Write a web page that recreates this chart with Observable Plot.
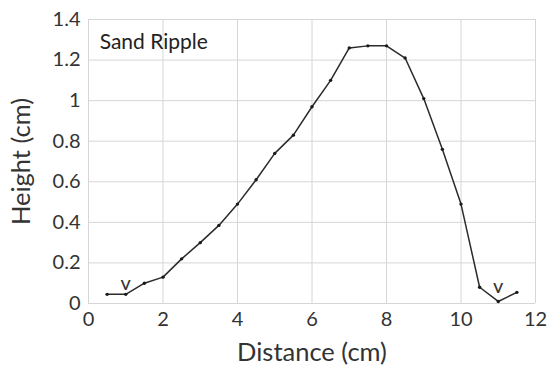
<!DOCTYPE html>
<html>
<head>
<meta charset="utf-8">
<script src="https://cdn.jsdelivr.net/npm/d3@7"></script>
<script src="https://cdn.jsdelivr.net/npm/@observablehq/plot@0.6"></script>
<style>
  html, body { margin: 0; padding: 0; background: #fff; }
  #chart svg { display: block; }
</style>
</head>
<body>
<div id="chart"></div>
<script>
const distance = [0.5, 1.0, 1.5, 2.0, 2.5, 3.0, 3.5, 4.0, 4.5, 5.0, 5.5, 6.0, 6.5, 7.0, 7.5, 8.0, 8.5, 9.0, 9.5, 10.0, 10.5, 11.0, 11.5];
const height = [0.045, 0.045, 0.10, 0.13, 0.22, 0.30, 0.385, 0.49, 0.61, 0.74, 0.83, 0.97, 1.10, 1.26, 1.27, 1.27, 1.21, 1.01, 0.76, 0.49, 0.08, 0.01, 0.055];
const xTicks = [0, 2, 4, 6, 8, 10, 12];
const yTicks = [0, 0.2, 0.4, 0.6, 0.8, 1, 1.2, 1.4];
const markerX = [1.0, 11.0];
const markerY = [0.10, 0.085];
const markerText = ["v", "v"];
const title = "Sand Ripple";
const xLabel = "Distance (cm)";
const yLabel = "Height (cm)";

const data = distance.map((d, i) => ({x: d, y: height[i]}));
const markers = markerX.map((d, i) => ({x: d, y: markerY[i], t: markerText[i]}));

const font = "Lato, 'Open Sans', sans-serif";

const chart = Plot.plot({
  width: 547,
  height: 367,
  marginLeft: 88,
  marginRight: 12,
  marginTop: 19,
  marginBottom: 64,
  style: {fontFamily: font, background: "#fff", color: "#333"},
  x: {domain: [0, 12], ticks: xTicks, label: null},
  y: {domain: [0, 1.4], ticks: yTicks, label: null},
  marks: [
    Plot.gridX(xTicks, {stroke: "#d6d6d6", strokeOpacity: 1, strokeWidth: 1}),
    Plot.gridY(yTicks, {stroke: "#d6d6d6", strokeOpacity: 1, strokeWidth: 1}),
    Plot.axisX(xTicks, {tickSize: 0, tickPadding: 8, fontSize: 20, fill: "#333", tickFormat: d => String(d), label: null}),
    Plot.axisY(yTicks, {tickSize: 0, tickPadding: 8, fontSize: 20, fill: "#333", tickFormat: d => String(d), label: null}),
    Plot.text([xLabel], {frameAnchor: "bottom", textAnchor: "middle", lineAnchor: "middle", dy: 49, fontSize: 25.5, fill: "#333"}),
    Plot.text([yLabel], {frameAnchor: "left", textAnchor: "middle", lineAnchor: "middle", dx: -67, rotate: -90, fontSize: 25.5, fill: "#333"}),
    Plot.text([title], {x: () => 0.3, y: () => 1.29, text: d => d, textAnchor: "start", fontSize: 21, fill: "#222"}),
    Plot.line(data, {x: "x", y: "y", stroke: "#2b2b2b", strokeWidth: 1.5}),
    Plot.dot(data, {x: "x", y: "y", r: 1.7, fill: "#1a1a1a", stroke: "none"}),
    Plot.text(markers, {x: "x", y: "y", text: "t", fontSize: 20, fill: "#333"})
  ]
});
document.getElementById("chart").appendChild(chart);
</script>
</body>
</html>
